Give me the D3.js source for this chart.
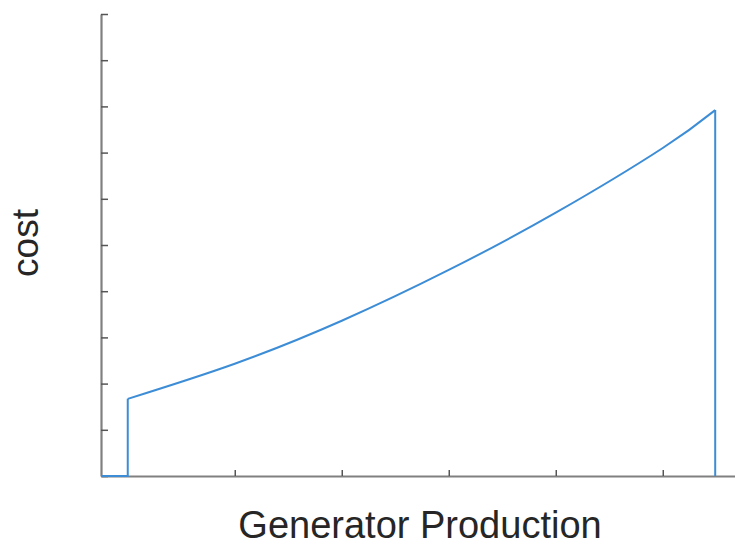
<!DOCTYPE html>
<html>
<head>
<meta charset="utf-8">
<script src="https://cdn.jsdelivr.net/npm/d3@7"></script>
<style>
  html, body { margin: 0; padding: 0; background: #fff; }
  svg { display: block; }
</style>
</head>
<body>
<svg id="chart" width="735" height="545"></svg>
<script>
// ---- data ----
const genOutput = [0, 1, 2, 3, 4, 5, 5.49];          // generator production (arbitrary units)
const costValues = [1.67, 2.43, 3.36, 4.46, 5.70, 7.10, 7.92];
const pMin = 0, pMax = 5.49;
const xTickValues = [1, 2, 3, 4, 5];
const yTickValues = [0, 1, 2, 3, 4, 5, 6, 7, 8, 9, 10];
const xLabel = "Generator Production";
const yLabel = "cost";

// ---- scales ----
const svg = d3.select("#chart");
const x = d3.scaleLinear().domain([-0.25, 5.675]).range([101, 735]);
const y = d3.scaleLinear().domain([0, 10]).range([476, 14]);

const axisColor = "#808080";
const lineColor = "#3d8dd6";

// ---- axes ----
const gx = svg.append("g").attr("transform", `translate(0,${y(0)})`)
  .call(d3.axisBottom(x).tickValues(xTickValues).tickSize(-6).tickSizeOuter(0).tickFormat(""));
const gy = svg.append("g").attr("transform", `translate(${x(-0.25)},0)`)
  .call(d3.axisLeft(y).tickValues(yTickValues).tickSize(-7).tickSizeOuter(0).tickFormat(""));
[gx, gy].forEach(g => {
  g.select(".domain").attr("stroke", axisColor).attr("stroke-width", 2.2);
  g.selectAll(".tick line").attr("stroke", "#555").attr("stroke-width", 1.5);
});

// ---- cost curve ----
const pts = genOutput.map((d, i) => [d, costValues[i]]);
const stepLine = d3.line().x(d => x(d[0])).y(d => y(d[1]));
const curveLine = d3.line().x(d => x(d[0])).y(d => y(d[1])).curve(d3.curveNatural);

svg.append("path")
  .attr("d", stepLine([[-0.25, 0], [pMin, 0], [pMin, costValues[0]]]))
  .attr("fill", "none").attr("stroke", lineColor).attr("stroke-width", 2);
svg.append("path")
  .attr("d", curveLine(pts))
  .attr("fill", "none").attr("stroke", lineColor).attr("stroke-width", 2);
svg.append("path")
  .attr("d", stepLine([[pMax, costValues[costValues.length - 1]], [pMax, 0]]))
  .attr("fill", "none").attr("stroke", lineColor).attr("stroke-width", 2);

// ---- labels ----
svg.append("text")
  .attr("x", 420).attr("y", 538)
  .attr("text-anchor", "middle")
  .attr("font-family", "Liberation Sans, Arial, sans-serif")
  .attr("font-size", 38)
  .attr("fill", "#262626")
  .text(xLabel);

svg.append("text")
  .attr("transform", "translate(38,243) rotate(-90)")
  .attr("text-anchor", "middle")
  .attr("font-family", "Liberation Sans, Arial, sans-serif")
  .attr("font-size", 37)
  .attr("fill", "#262626")
  .text(yLabel);
</script>
</body>
</html>
